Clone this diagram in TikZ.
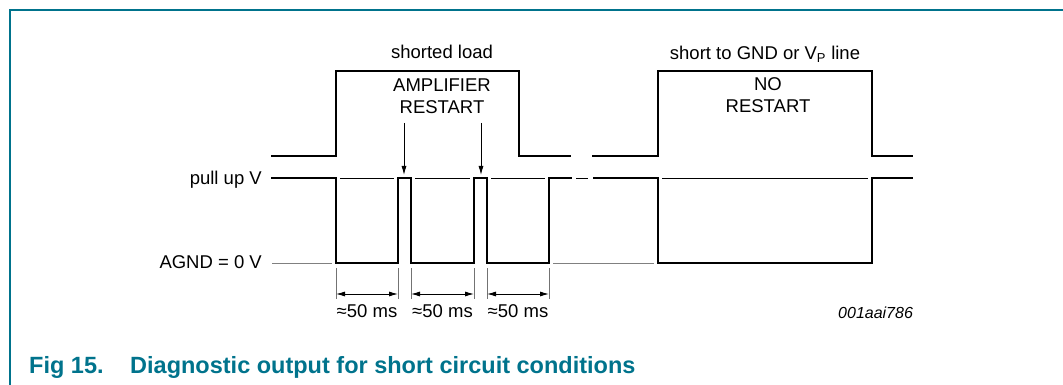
\documentclass[tikz,border=0pt]{standalone}
\usepackage{fontspec}
\setmainfont{Liberation Sans}
\usetikzlibrary{arrows.meta}
\definecolor{nxpteal}{RGB}{0,115,140}

\begin{document}
\begin{tikzpicture}
	[x=1pt, y=-1pt, >={Latex[length=9pt,width=5pt]},
	 wave/.style={line width=2.6pt, line join=miter},
	 refline/.style={line width=0.9pt},
	 gndline/.style={line width=0.9pt, gray},
	 dimtick/.style={line width=0.8pt, black!55},
	 lbl/.style={font=\fontsize{18.5}{22}\selectfont, inner sep=0pt, anchor=base},
	 caption/.style={font=\fontsize{23.5}{27}\selectfont\bfseries, text=nxpteal, inner sep=0pt, anchor=base west}]
\useasboundingbox (0,0) rectangle (1063,385);
\draw[nxpteal, line width=1.5pt] (10,385) -- (10,10) -- (1063,10);

% labels
\node[lbl](load) at (442,59) {shorted load};
\node[lbl](amp) at (442,92) {AMPLIFIER};
\node[lbl](restart) at (442,114) {RESTART};
\node[lbl](short) at (765,60) {short to GND or V\textsubscript{P} line};
\node[lbl](no) at (768,91) {NO};
\node[lbl](norestart) at (768,113) {RESTART};
\node[lbl, anchor=base east](pullup) at (262,184) {pull up V};
\node[lbl, anchor=base east](agnd) at (262,268) {AGND = 0 V};
\node[font=\fontsize{16}{19}\selectfont\itshape, inner sep=0pt, anchor=base west](code) at (838,318) {001aai786};
\node[caption](fig) at (29,373) {Fig 15.};
\node[caption](cap) at (130,373) {Diagnostic output for short circuit conditions};

% output stage
\draw[wave] (271,156) -- (336,156) -- (336,71) -- (519,71) -- (519,156) -- (571,156);
\draw[wave] (592,156) -- (658,156) -- (658,71) -- (872,71) -- (872,156) -- (913,156);

% diagnostic output
\draw[wave] (271,178) -- (336,178) -- (336,263) -- (398,263) -- (398,178) -- (411,178)
	-- (411,263) -- (474,263) -- (474,178) -- (487,178) -- (487,263) -- (549,263)
	-- (549,178) -- (572,178);
\draw[wave] (593,178) -- (658,178) -- (658,263) -- (872,263) -- (872,178) -- (913,178);
\draw[refline] (340,178) -- (394,178) (415,178) -- (470,178) (491,178) -- (545,178)
	(576,178) -- (588,178) (662,178) -- (868,178);
\draw[gndline] (272,263) -- (332,263) (553,263) -- (654,263);

% restart arrows
\coordinate (r1) at (404,123);
\coordinate (p1) at (404,175);
\coordinate (r2) at (481,123);
\coordinate (p2) at (481,175);
\path[->, refline]
	(r1) edge (p1)
	(r2) edge (p2);

% timing
\foreach \a/\b [count=\i] in {336/398,411/474,487/549}{
	\coordinate (s\i) at (\a,294);
	\coordinate (e\i) at (\b,294);
	\draw[dimtick] (\a,268) -- (\a,299) (\b,268) -- (\b,299);
	\draw[<->, refline] (s\i) -- (e\i);
	\node[lbl](t\i) at ({(\a+\b)/2},317) {≈50 ms};
}
\end{tikzpicture}
\end{document}
